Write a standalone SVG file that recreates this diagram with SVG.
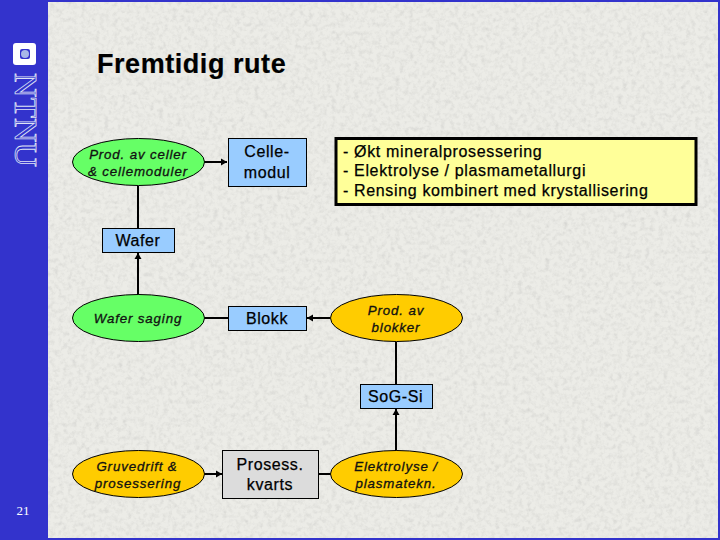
<svg xmlns="http://www.w3.org/2000/svg" width="720" height="540" viewBox="0 0 720 540">
<style>
text{font-family:"Liberation Sans",Arial,sans-serif;fill:#000;text-anchor:middle}
.b{fill:#99ccff;stroke:#000;stroke-width:1}
.g{fill:#dcdcdc;stroke:#000;stroke-width:1}
.eg{fill:#66ff66;stroke:#000;stroke-width:1}
.eo{fill:#ffcc00;stroke:#000;stroke-width:1}
.t{font-size:16px;stroke:#000;stroke-width:.25;letter-spacing:.6px}
.i{font-size:13.3px;font-style:italic;fill:#111;stroke:#111;stroke-width:.3;letter-spacing:.85px}
.l{font-size:16px;text-anchor:start;stroke:#000;stroke-width:.25;letter-spacing:.65px}
.c{stroke:#000;stroke-width:2;fill:none}
</style>
<defs>
<filter id="tex" x="0" y="0" width="100%" height="100%">
<feTurbulence type="fractalNoise" baseFrequency="0.22" numOctaves="4" seed="4"/>
<feColorMatrix values="0 0 0 0 0.6  0 0 0 0 0.6  0 0 0 0 0.58  .8 .8 0 0 -0.7"/>
<feComposite in2="SourceGraphic" operator="in"/>
<feMerge><feMergeNode in="SourceGraphic"/><feMergeNode/></feMerge>
</filter>
<marker id="a" markerUnits="userSpaceOnUse" markerWidth="8" markerHeight="8" refX="7" refY="4" orient="auto"><path d="M1 0.5L7 4L1 7.5Z" fill="#000"/></marker>
</defs>
<rect width="720" height="540" fill="#3333cc"/>
<rect x="48" y="2" width="670" height="536" fill="#ecece7" filter="url(#tex)"/>
<g id="logo">
<rect x="13" y="43" width="23" height="22" rx="3" fill="#fff"/>
<rect x="20" y="49" width="10" height="10" rx="2" fill="#3333cc"/>
<circle cx="25" cy="54" r="4" fill="#a8b8e8"/>
<text transform="translate(15,73) rotate(90)" style="font-family:'Liberation Serif',serif;text-anchor:start;font-size:31px;fill:#3333cc;stroke:#dfe3f5;stroke-width:.8" textLength="94" lengthAdjust="spacingAndGlyphs">NTNU</text>
</g>
<text id="page" x="23" y="515" style="font-family:'Liberation Serif',serif;font-size:13px;fill:#fff">21</text>
<text id="title" x="97" y="73" style="font-size:27px;font-weight:bold;text-anchor:start;stroke:#000;stroke-width:.2;letter-spacing:.55px">Fremtidig rute</text>
<g id="connectors">
<path class="c" d="M204 162H227" marker-end="url(#a)"/>
<path class="c" d="M138 186V229"/>
<path class="c" d="M138 295V253" marker-end="url(#a)"/>
<path class="c" d="M204 318H229"/>
<path class="c" d="M330 318H307" marker-end="url(#a)"/>
<path class="c" d="M396 342V385"/>
<path class="c" d="M396 451V409" marker-end="url(#a)"/>
<path class="c" d="M204 474H222" marker-end="url(#a)"/>
<path class="c" d="M319 474H331"/>
</g>
<g id="n-celler"><ellipse class="eg" cx="138.500" cy="162" rx="66" ry="23.500"/><text class="i" x="138" y="159">Prod. av celler</text><text class="i" x="138" y="176">&amp; cellemoduler</text></g>
<g id="n-cellemodul"><rect class="b" x="228.500" y="138.500" width="78" height="48"/><text class="t" x="267" y="157">Celle-</text><text class="t" x="267" y="178">modul</text></g>
<g id="n-info"><rect x="336" y="138.500" width="360" height="66" fill="#ffff99" stroke="#000" stroke-width="3"/>
<text class="l" x="343" y="157">- Økt mineralprosessering</text><text class="l" x="343" y="176">- Elektrolyse / plasmametallurgi</text><text class="l" x="343" y="196">- Rensing kombinert med krystallisering</text></g>
<g id="n-wafer"><rect class="b" x="102.500" y="228.500" width="72" height="24"/><text class="t" x="138" y="246">Wafer</text></g>
<g id="n-saging"><ellipse class="eg" cx="138.500" cy="318" rx="66" ry="23.500"/><text class="i" x="138" y="323">Wafer saging</text></g>
<g id="n-blokk"><rect class="b" x="228.500" y="306.500" width="78" height="24"/><text class="t" x="267" y="324">Blokk</text></g>
<g id="n-blokker"><ellipse class="eo" cx="396.500" cy="318" rx="66" ry="23.500"/><text class="i" x="396" y="315">Prod. av</text><text class="i" x="396" y="332">blokker</text></g>
<g id="n-sog"><rect class="b" x="360.500" y="384.500" width="72" height="24"/><text class="t" x="395.500" y="402">SoG-Si</text></g>
<g id="n-gruve"><ellipse class="eo" cx="138.500" cy="474" rx="66" ry="23.500"/><text class="i" x="137" y="471">Gruvedrift &amp;</text><text class="i" x="138" y="488">prosessering</text></g>
<g id="n-kvarts"><rect class="g" x="222.500" y="450.500" width="96" height="48"/><text class="t" x="270" y="470">Prosess.</text><text class="t" x="270" y="490">kvarts</text></g>
<g id="n-elektro"><ellipse class="eo" cx="396.500" cy="474" rx="66" ry="23.500"/><text class="i" x="396" y="471">Elektrolyse /</text><text class="i" x="396" y="488">plasmatekn.</text></g>
</svg>
